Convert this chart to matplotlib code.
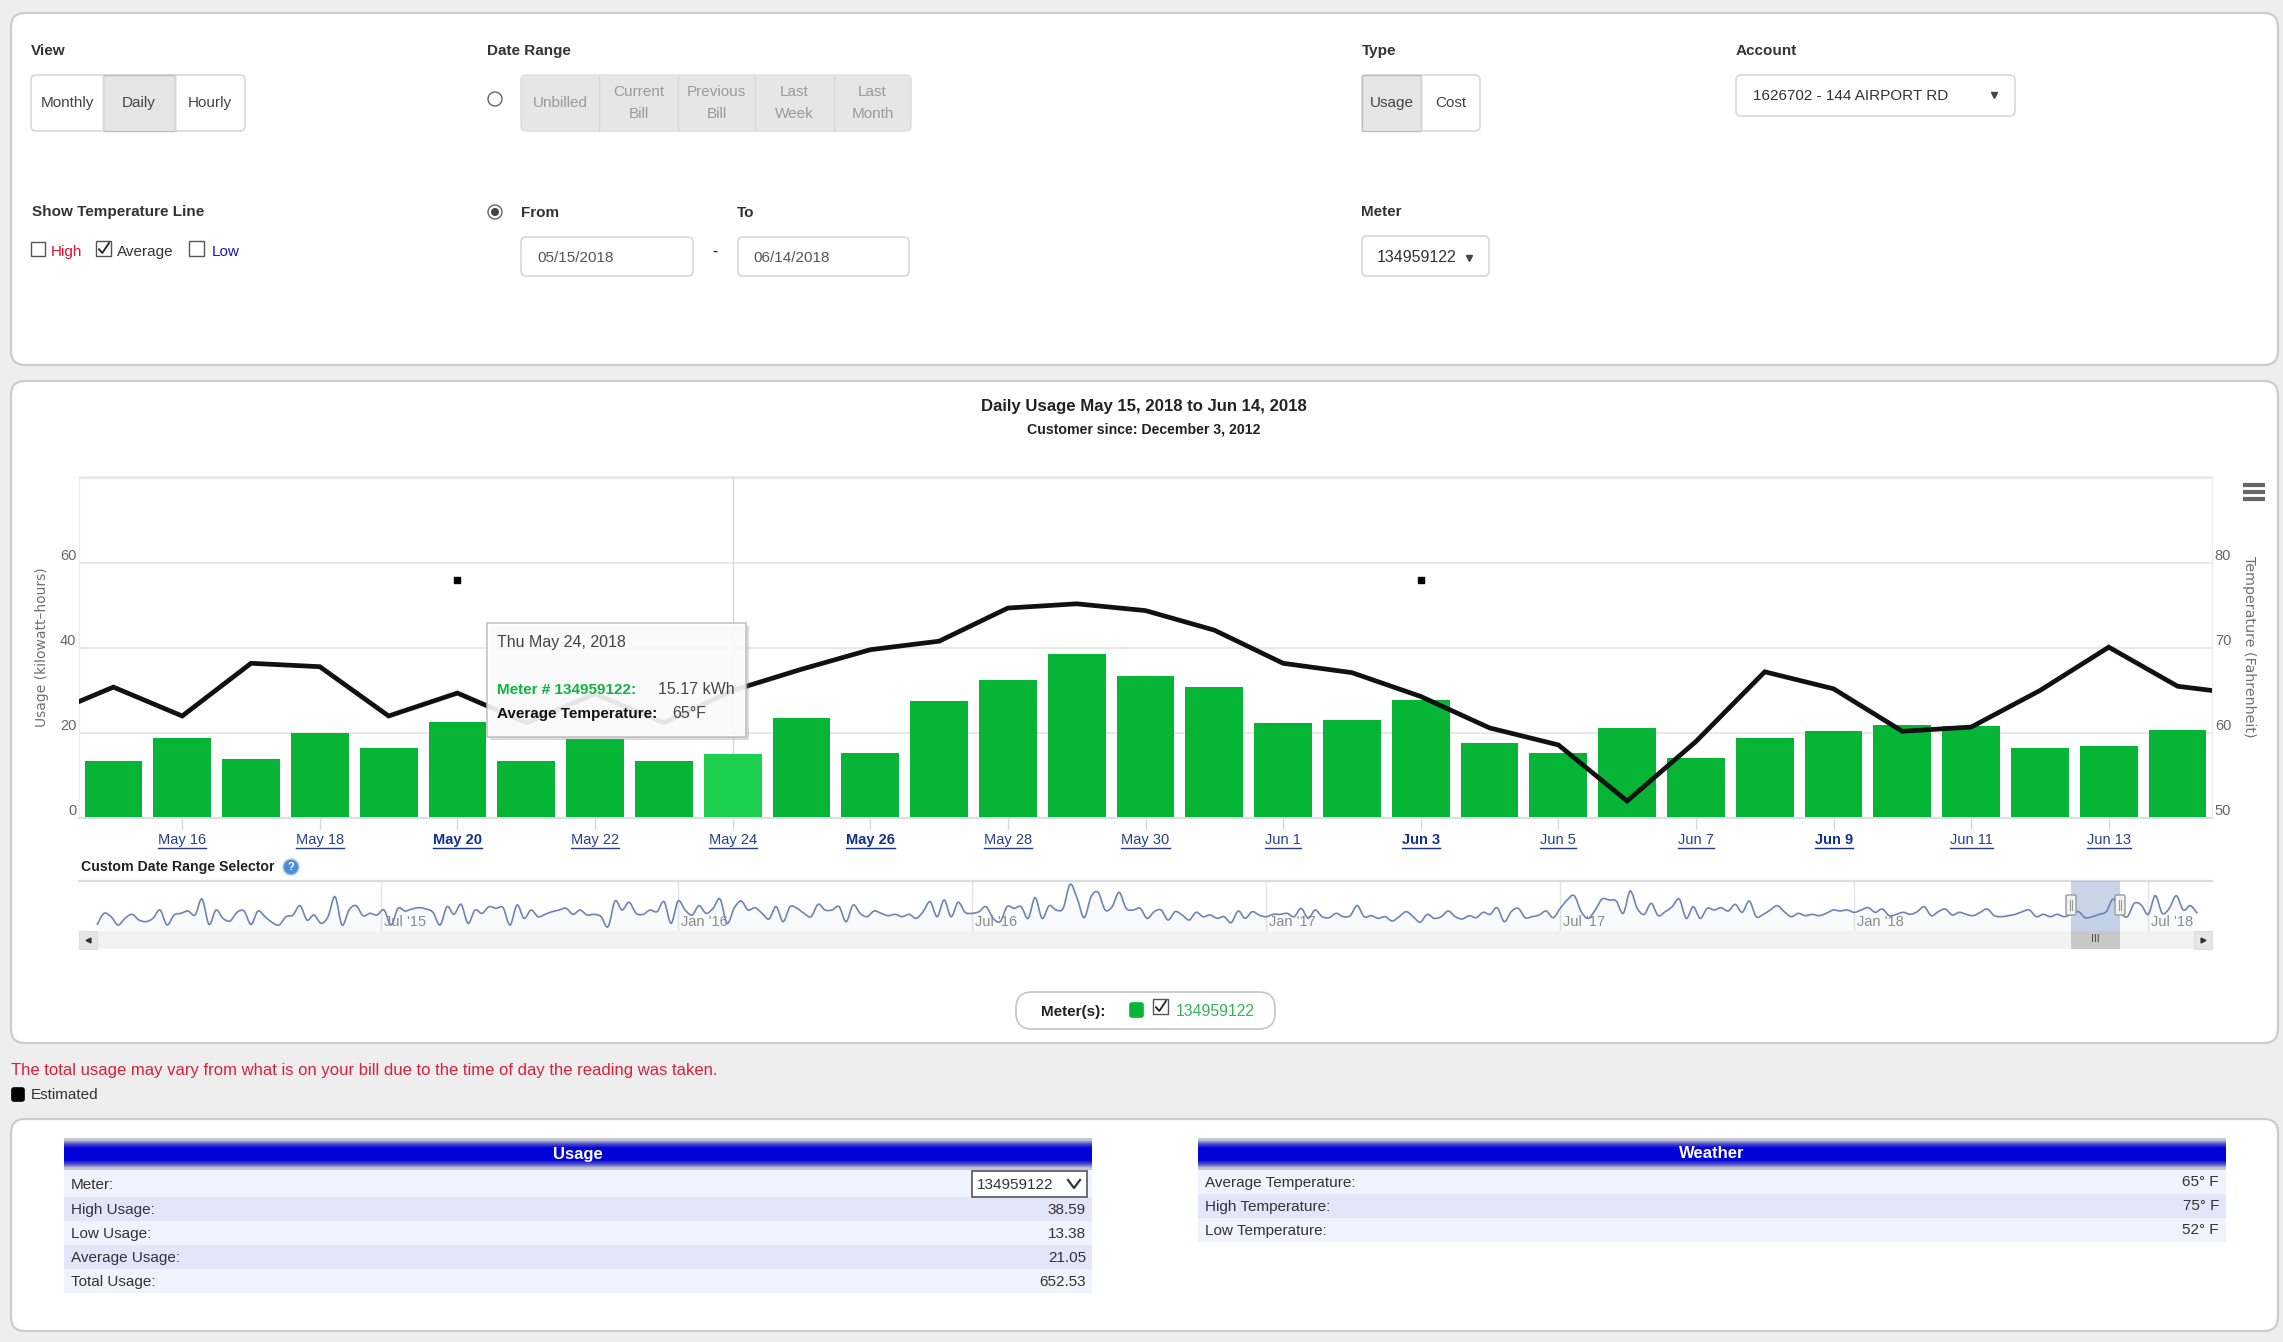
import numpy as np
import matplotlib
matplotlib.use('Agg')
import matplotlib.pyplot as plt
from matplotlib.patches import FancyBboxPatch, Rectangle, Circle, PathPatch
from matplotlib.path import Path
from matplotlib.lines import Line2D

plt.rcParams['font.family'] = ['Liberation Sans', 'DejaVu Sans']

W, H = 2283, 1342

# chart data
days = ['May 15', 'May 16', 'May 17', 'May 18', 'May 19', 'May 20', 'May 21', 'May 22',
        'May 23', 'May 24', 'May 25', 'May 26', 'May 27', 'May 28', 'May 29', 'May 30',
        'May 31', 'Jun 1', 'Jun 2', 'Jun 3', 'Jun 4', 'Jun 5', 'Jun 6', 'Jun 7',
        'Jun 8', 'Jun 9', 'Jun 10', 'Jun 11', 'Jun 12', 'Jun 13', 'Jun 14']
usage = [13.4, 18.8, 13.8, 20.0, 16.5, 22.7, 13.4, 18.6, 13.4, 15.17, 23.5, 15.3, 27.5, 32.5, 38.59, 33.3,
         30.9, 22.3, 23.1, 27.8, 17.7, 15.3, 21.2, 14.2, 18.8, 20.4, 21.9, 21.6, 16.5, 16.9, 20.8]
temperature = [65.4, 62, 68.2, 67.8, 62, 64.7, 61.2, 64.6, 61.2, 65, 67.5, 69.8, 70.8, 74.7, 75.2, 74.4,
               72.1, 68.2, 67.1, 64.3, 60.6, 58.6, 52, 59, 67.2, 65.2, 60.2, 60.7, 65, 70.1, 65.5]
temp_before = 62  # May 14, only the end of this segment shows
temp_after = 64.5  # Jun 15, same on the right
estimated_days = ['May 20', 'Jun 3']
estimated_level = [56, 56]
bold_days = ['May 20', 'May 26', 'Jun 3', 'Jun 9']
hovered_day = 'May 24'
usage_ticks = [0, 20, 40, 60, 80]
temp_ticks = [50, 60, 70, 80]

# navigator series, three stretches of the long overview line
nav_a = [10, 45, 35, 10, 30, 42, 25, 20, 30, 55, 10, 40, 45, 52, 40, 88, 12, 55, 30, 22,
         48, 52, 12, 52, 35, 18, 10, 35, 40, 68, 25, 40, 15, 35, 95, 10, 55, 68, 38, 45,
         40, 55, 10, 60, 52, 58, 62, 58, 48, 10, 65, 42, 72, 15, 55, 45, 65, 60, 62, 10,
         70, 30, 55, 35, 42, 50, 55, 60, 42, 55, 40, 42, 35, 5, 82, 55, 78, 45, 42, 55,
         50, 80, 15, 82, 55, 40, 68, 45, 60, 88, 15, 60, 82, 55, 62, 45, 28, 65, 20]
nav_b = [65, 60, 45, 35, 72, 55, 55, 65, 20, 70, 45, 35, 52, 45, 38, 42, 35, 42, 30, 50,
         80, 35, 85, 35, 78, 48, 45, 50, 65, 30, 20, 65, 60, 65, 30, 92, 30, 68, 55, 60,
         132, 90, 32, 95, 108, 55, 65, 108, 60, 55, 60, 30, 50, 55, 25, 50, 40, 25, 48, 35,
         40, 30, 35, 17, 52, 30, 50, 40, 35, 42, 42, 45, 35, 60, 30, 55, 35, 32, 45, 35,
         38, 68, 35, 38, 30, 35, 22, 35, 50, 35, 18, 42, 30, 35, 52, 35, 28, 38, 32, 48,
         42, 62, 20, 50]
nav_c = [60, 32, 35, 40, 52, 32, 60, 85, 98, 50, 30, 55, 88, 85, 82, 45, 112, 60, 42, 75,
         38, 50, 65, 88, 30, 65, 30, 60, 55, 62, 52, 72, 48, 82, 35, 42, 55, 68, 50, 35,
         45, 38, 42, 38, 45, 55, 52, 55, 48, 55, 62, 48, 58, 38, 42, 48, 42, 50, 65, 38,
         50, 58, 40, 48, 42, 38, 48, 58, 38, 35, 38, 42, 50, 55, 35, 42, 35, 42, 35, 42,
         50, 32, 35, 42, 50, 88, 48, 35, 75, 70, 42, 98, 45, 60, 98, 55, 68, 45]
nav_tick_pos = [40.6, 83, 125, 167, 209, 251, 293]
nav_tick_labels = ["Jul '15", "Jan '16", "Jul '16", "Jan '17", "Jul '17", "Jan '18", "Jul '18"]

# summary tables
usage_rows = [('High Usage:', '38.59'), ('Low Usage:', '13.38'), ('Average Usage:', '21.05'), ('Total Usage:', '652.53')]
weather_rows = [('Average Temperature:', '65° F'), ('High Temperature:', '75° F'), ('Low Temperature:', '52° F')]

GREEN = '#06b535'
GREY_TXT = '#555555'
ACTIVE = '#e6e6e6'
BTN_EDGE = '#d8d8d8'


def px_axes(x0, y0, x1, y1, **kw):
    return fig.add_axes([x0 / W, 1 - y1 / H, (x1 - x0) / W, (y1 - y0) / H], **kw)


def rbox(ax, x0, y0, x1, y1, r=5, fc='white', ec=BTN_EDGE, lw=1.2, **kw):
    p = FancyBboxPatch((x0, y0), x1 - x0, y1 - y0, boxstyle=f'round,pad=0,rounding_size={r}',
                       fc=fc, ec=ec, lw=lw, **kw)
    ax.add_patch(p)
    return p


def txt(ax, x, y, s, size=11, color='#333333', ha='left', weight='normal', **kw):
    return ax.text(x, y, s, fontsize=size, color=color, ha=ha, va='center', fontweight=weight, **kw)


def button_group(ax, x0, y0, x1, y1, edges, labels, active=None, fc='white', color='#444444', ec=BTN_EDGE):
    rbox(ax, x0, y0, x1, y1, fc=fc, ec=ec)
    xs = [x0] + edges + [x1]
    for i, lab in enumerate(labels):
        if i == active:
            ax.add_patch(Rectangle((xs[i], y0), xs[i + 1] - xs[i], y1 - y0, fc=ACTIVE, ec='#bdbdbd', lw=1))
        if i > 0:
            ax.plot([xs[i], xs[i]], [y0, y1], color=BTN_EDGE, lw=1)
        txt(ax, (xs[i] + xs[i + 1]) / 2, (y0 + y1) / 2, lab, color=color, ha='center', linespacing=1.75)


def checkbox(ax, x, y, size, checked=False):
    ax.add_patch(Rectangle((x, y), size, size, fc='white', ec='#555555', lw=1))
    if checked:
        ax.plot([x + 3, x + size * 0.42, x + size - 2], [y + size * 0.55, y + size - 3, y + 2], color='#222222', lw=1.3)


def smooth_path(xs, ys):
    # highcharts style spline through the values
    pts = np.column_stack([xs, ys])
    verts = [pts[0]]
    codes = [Path.MOVETO]
    for i in range(len(pts) - 1):
        prev = pts[max(i - 1, 0)]
        nxt = pts[min(i + 2, len(pts) - 1)]
        verts += [pts[i] + (pts[i + 1] - prev) / 6, pts[i + 1] - (nxt - pts[i]) / 6, pts[i + 1]]
        codes += [Path.CURVE4] * 3
    return Path(verts, codes)


fig = plt.figure(figsize=(W / 100, H / 100), dpi=100, facecolor='#eeeeee')

# page background with the three panels and the form controls
ui = px_axes(0, 0, W, H, zorder=0)
ui.set_xlim(0, W)
ui.set_ylim(H, 0)
ui.axis('off')

rbox(ui, 11, 13, 2278, 365, r=14, ec='#cccccc', lw=1.6)
rbox(ui, 11, 381, 2278, 1043, r=14, ec='#cccccc', lw=1.6)
rbox(ui, 11, 1119, 2278, 1331, r=14, ec='#cccccc', lw=1.6)

txt(ui, 31, 51, 'View', weight='bold')
button_group(ui, 31, 75, 245, 131, [103, 175], ['Monthly', 'Daily', 'Hourly'], active=1)
txt(ui, 487, 51, 'Date Range', weight='bold')
ui.add_patch(Circle((495, 99), 7, fc='white', ec='#666666', lw=1))
button_group(ui, 521, 75, 911, 131, [599, 678, 755, 834],
             ['Unbilled', 'Current\nBill', 'Previous\nBill', 'Last\nWeek', 'Last\nMonth'],
             fc=ACTIVE, color='#9a9a9a', ec='#e0e0e0')
txt(ui, 1362, 51, 'Type', weight='bold')
button_group(ui, 1362, 75, 1480, 131, [1421], ['Usage', 'Cost'], active=0)
txt(ui, 1736, 51, 'Account', weight='bold')
rbox(ui, 1736, 75, 2015, 116)
txt(ui, 1753, 96, '1626702 - 144 AIRPORT RD')
ui.plot([1994], [95], marker='v', ms=5, color='#444444')

txt(ui, 32, 212, 'Show Temperature Line', weight='bold')
checkbox(ui, 31, 242, 14)
txt(ui, 51, 252, 'High', color='#e01030')
checkbox(ui, 96, 241, 15, checked=True)
txt(ui, 117, 252, 'Average')
checkbox(ui, 189, 241, 15)
txt(ui, 212, 252, 'Low', color='#1515d0')

ui.add_patch(Circle((495, 212), 7, fc='white', ec='#666666', lw=1))
ui.add_patch(Circle((495, 212), 4, fc='#444444', ec='none'))
txt(ui, 521, 213, 'From', weight='bold')
txt(ui, 737, 213, 'To', weight='bold')
rbox(ui, 521, 237, 693, 276)
txt(ui, 537, 258, '05/15/2018', color=GREY_TXT)
txt(ui, 715, 251, '-', ha='center', weight='bold')
rbox(ui, 738, 237, 909, 276)
txt(ui, 753, 258, '06/14/2018', color=GREY_TXT)
txt(ui, 1361, 212, 'Meter', weight='bold')
rbox(ui, 1362, 236, 1489, 276)
txt(ui, 1377, 257, '134959122', size=11.5)
ui.plot([1469], [258], marker='v', ms=4, color='#444444')

txt(ui, 1144, 406, 'Daily Usage May 15, 2018 to Jun 14, 2018', size=12.1, color='#222222', ha='center', weight='bold')
txt(ui, 1144, 429, 'Customer since: December 3, 2012', size=10.2, color='#222222', ha='center', weight='bold')

for hy in (485, 492, 499):
    ui.plot([2243, 2265], [hy, hy], color='#666666', lw=3, solid_capstyle='butt')

txt(ui, 81, 867, 'Custom Date Range Selector', size=10.2, color='#222222', weight='bold')
ui.add_patch(Circle((291, 867), 8, fc='#4b8fd6', ec='#b7cde8', lw=1))
txt(ui, 291, 867, '?', size=8, color='white', ha='center', weight='bold')

# meter legend
rbox(ui, 1016, 992, 1275, 1029, r=16, ec='#c4c4c4')
txt(ui, 1041, 1012, 'Meter(s):', color='#222222', weight='bold')
rbox(ui, 1130, 1003, 1143, 1017, r=2, fc=GREEN, ec=GREEN)
checkbox(ui, 1153, 999, 15, checked=True)
txt(ui, 1176, 1011, '134959122', size=11.3, color='#33b455')

txt(ui, 11, 1070, 'The total usage may vary from what is on your bill due to the time of day the reading was taken.',
    color='#d9213a', size=12)
rbox(ui, 12, 1088, 24, 1101, r=2, fc='black', ec='black')
txt(ui, 31, 1095, 'Estimated')

# summary tables, header is a grey-blue-grey fade
header_fade = np.array([[0.78, 0.78, 0.82], [0.3, 0.3, 0.8], [0, 0, 0.85], [0, 0, 0.85], [0, 0, 0.85],
                        [0, 0, 0.85], [0.3, 0.3, 0.8], [0.78, 0.78, 0.82]]).reshape(8, 1, 3)
row_colors = ['#f0f2fd', '#e3e5f8']


def table_header(x0, x1, title):
    ui.imshow(header_fade, extent=(x0, x1, 1170, 1138), aspect='auto', interpolation='bilinear', zorder=2)
    txt(ui, (x0 + x1) / 2, 1154, title, size=12, color='white', ha='center', weight='bold', zorder=3)


table_header(64, 1092, 'Usage')
ui.add_patch(Rectangle((64, 1170), 1028, 27, fc=row_colors[0], ec='none'))
txt(ui, 71, 1185, 'Meter:')
ui.add_patch(Rectangle((972, 1171), 115, 26, fc='white', ec='#555555', lw=1.2, zorder=2))
txt(ui, 977, 1185, '134959122', zorder=3)
ui.plot([1068, 1074, 1080], [1180, 1188, 1180], color='#333333', lw=1.6, zorder=3)
y = 1197
for i, (name, val) in enumerate(usage_rows):
    ui.add_patch(Rectangle((64, y), 1028, 24, fc=row_colors[(i + 1) % 2], ec='none'))
    txt(ui, 71, y + 13, name)
    txt(ui, 1086, y + 13, val, ha='right')
    y += 24

table_header(1198, 2226, 'Weather')
y = 1170
for i, (name, val) in enumerate(weather_rows):
    ui.add_patch(Rectangle((1198, y), 1028, 24, fc=row_colors[i % 2], ec='none'))
    txt(ui, 1205, y + 13, name)
    txt(ui, 2219, y + 12, val, ha='right')
    y += 24
ui.set_xlim(0, W)
ui.set_ylim(H, 0)

# main chart
x = np.arange(len(days))
ax = px_axes(79, 476, 2212, 818, zorder=1)
ax.patch.set_alpha(0)
colors = ['#1ccf4e' if d == hovered_day else GREEN for d in days]
ax.axvline(days.index(hovered_day), color='#d8d8d8', lw=1, zorder=1)
ax.bar(x, usage, width=0.84, color=colors, zorder=2)
est_x = [days.index(d) for d in estimated_days]
ax.scatter(est_x, estimated_level, marker='s', s=14, color='black', zorder=4)
ax.set_xlim(-0.5, len(days) - 0.5)
ax.set_ylim(0, 80.47)
ax.set_yticks(usage_ticks)
ax.set_yticklabels(['0', '20', '40', '60', ''], va='bottom')
ax.tick_params(axis='y', length=0, pad=2, labelsize=10.5, labelcolor='#666666')
ax.grid(axis='y', color='#e8e8e8', lw=1.4, zorder=0)
ax.set_axisbelow(True)
for side in ('top', 'left', 'right'):
    ax.spines[side].set_color('#ececec')
ax.spines['bottom'].set_color('#d8dfea')
ax.spines['bottom'].set_linewidth(1.4)

tick_idx = x[1::2]
ax.set_xticks(tick_idx)
ax.set_xticklabels([days[i] for i in tick_idx])
ax.tick_params(axis='x', length=8, width=1, color='#ccd6eb', pad=2.5, labelsize=10.5, labelcolor='#27408b')
for lab in ax.get_xticklabels():
    if lab.get_text() in bold_days:
        lab.set_fontweight('bold')
        lab.set_color('#12308f')

ax.text(42, 647, 'Usage (kilowatt–hours)', transform=ui.transData, rotation=90, ha='center', va='center',
        fontsize=10, color='#707070', family='DejaVu Sans')

axt = ax.twinx()
axt.patch.set_alpha(0)
axt.set_ylim(50, 50 + 80.47 / 2)
axt.plot(np.r_[-1, x, len(days)], [temp_before] + temperature + [temp_after], color='#111111', lw=3.4, zorder=5,
         solid_joinstyle='miter')
axt.set_yticks(temp_ticks)
axt.set_yticklabels(['50', '60', '70', '80'], va='bottom')
axt.tick_params(axis='y', length=0, pad=2, labelsize=10.5, labelcolor='#666666')
for side in axt.spines:
    axt.spines[side].set_visible(False)
axt.text(2249, 647, 'Temperature (Fahrenheit)', transform=ui.transData, rotation=270, ha='center', va='center',
         fontsize=10.3, color='#707070', family='DejaVu Sans')

# navigator strip
nav = nav_a + nav_b + nav_c
nav_x = np.arange(len(nav))
nax = px_axes(79, 881, 2212, 931, zorder=1)
nax.set_facecolor('white')
nax.add_patch(PathPatch(smooth_path(nav_x, nav), fc='none', ec='#6d85b5', lw=1.2, zorder=3))
nax.fill_between(nav_x, nav, -8, color='#6d85b5', alpha=0.04, lw=0, zorder=2)
nax.set_xlim(-2.57, 302.1)
nax.set_ylim(-8, 142)
nax.set_yticks([])
nax.set_xticks(nav_tick_pos)
nax.set_xticklabels([])
nax.tick_params(axis='x', length=0)
nax.grid(axis='x', color='#e4e4e4', lw=1, zorder=1)
for p, s in zip(nav_tick_pos, nav_tick_labels):
    nax.annotate(s, (p, 19), xytext=(2, 0), textcoords='offset points', fontsize=10.5, color='#8a8a8a',
                 ha='left', va='center', zorder=2.5, annotation_clip=False)
for side in ('left', 'right', 'bottom'):
    nax.spines[side].set_visible(False)
nax.spines['top'].set_color('#dcdcdc')
nax.spines['top'].set_linewidth(1.6)

# top overlay: scrollbar, range selection and the tooltip
top = px_axes(0, 0, W, H, zorder=5)
top.patch.set_alpha(0)
top.set_xlim(0, W)
top.set_ylim(H, 0)
top.axis('off')

top.add_patch(Rectangle((79, 931), 2133, 18, fc='#f2f2f2', ec='none', zorder=1))
top.add_patch(Rectangle((79, 931), 18, 18, fc='#e6e6e6', ec='#dddddd', lw=0.8, zorder=2))
top.add_patch(Rectangle((2194, 931), 18, 18, fc='#e6e6e6', ec='#dddddd', lw=0.8, zorder=2))
top.plot([88], [940], marker='<', ms=3.5, color='#333333')
top.plot([2203], [940], marker='>', ms=3.5, color='#333333')
top.add_patch(Rectangle((2071, 881), 49, 50, fc='#6685c2', alpha=0.35, ec='none', zorder=2))
top.add_patch(Rectangle((2071, 931), 49, 18, fc='#c8c8c8', ec='none', zorder=2))
txt(top, 2095, 939, 'III', size=7.5, color='#444444', ha='center', zorder=3)
for hx in (2071, 2120):
    rbox(top, hx - 5, 895, hx + 5, 915, r=1.5, fc='#f2f2f2', ec='#999999', lw=1, zorder=3)
    top.plot([hx - 1, hx - 1], [900, 910], color='#999999', lw=0.8, zorder=4)
    top.plot([hx + 1, hx + 1], [900, 910], color='#999999', lw=0.8, zorder=4)

top.add_patch(Rectangle((490, 626), 259, 114, fc='#888888', alpha=0.3, ec='none', zorder=5))
top.add_patch(Rectangle((487, 623), 259, 114, fc='white', alpha=0.88, ec='#bbbbbb', lw=1.2, zorder=6))
txt(top, 497, 643, 'Thu May 24, 2018', size=11.5, color='#444444', zorder=7)
txt(top, 497, 690, 'Meter # 134959122:', color='#0cb443', weight='bold', zorder=7)
txt(top, 658, 690, '15.17 kWh', size=11.5, color='#444444', zorder=7)
txt(top, 497, 714, 'Average Temperature:', color='#111111', weight='bold', zorder=7)
txt(top, 672, 714, '65°F', size=11.5, color='#444444', zorder=7)
top.set_xlim(0, W)
top.set_ylim(H, 0)

# the date links on the axis are underlined
fig.canvas.draw()
for lab in ax.get_xticklabels():
    bb = lab.get_window_extent()
    yy = bb.y0 / H - 0.0008
    fig.add_artist(Line2D([bb.x0 / W, bb.x1 / W], [yy, yy], color=lab.get_color(), lw=1))

fig.savefig('out.png', dpi=100, facecolor=fig.get_facecolor())
